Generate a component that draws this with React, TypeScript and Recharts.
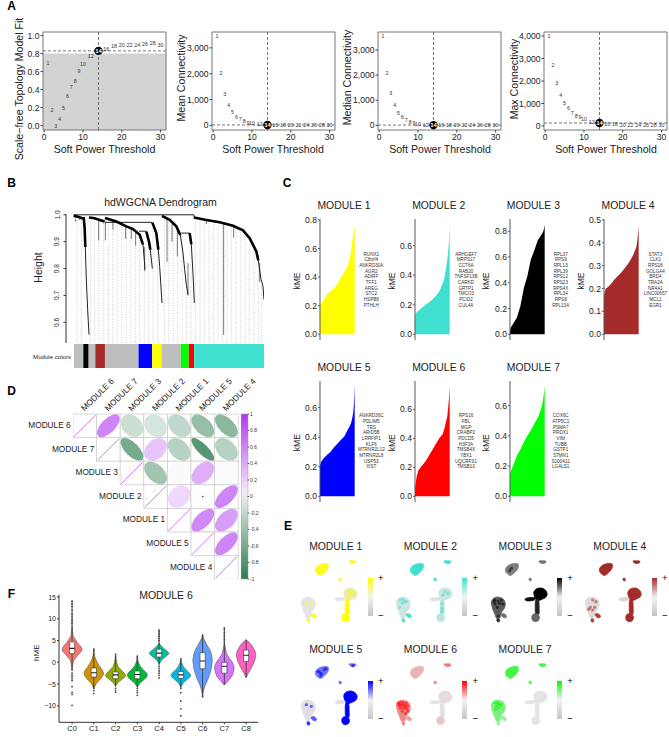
import React from 'react';
import {
  Area,
  AreaChart,
  Bar,
  BarChart,
  ReferenceArea,
  ReferenceLine,
  Scatter,
  ScatterChart,
  XAxis,
  YAxis,
} from 'recharts';

// panel A: soft power picks
const softPowers = [1, 2, 3, 4, 5, 6, 7, 8, 9, 10, 12, 14, 16, 18, 20, 22, 24, 26, 28, 30];
const fitValues = [0.69, 0.17, 0, 0.075, 0.2, 0.33, 0.43, 0.5, 0.61, 0.686, 0.77, 0.83, 0.855, 0.885, 0.895, 0.9, 0.9, 0.905, 0.915, 0.9];
const meanK = [3460, 2015, 1226, 775, 504, 333, 244, 167, 100, 78, 39, 16, 10, 8, 6, 4, 3, 2, 2, 1];
const medianK = [3558, 2097, 1275, 797, 502, 319, 223, 143, 92, 64, 27, 10, 6, 4, 3, 2, 1, 1, 1, 1];
const maxK = [4000, 2724, 1926, 1391, 1036, 786, 578, 458, 385, 311, 191, 133, 102, 75, 60, 48, 40, 33, 28, 24];

// panel B: dendrogram, x = leaf position, y = height
const mainBranches = [
  [[222, 0.996], [235, 0.993], [250, 0.986]],
  [[252, 0.991], [255, 0.95], [257, 0.88]],
  [[268, 0.99], [285, 0.987], [300, 0.981], [315, 0.975]],
  [[316, 0.988], [350, 0.975], [380, 0.957], [400, 0.947], [420, 0.926], [430, 0.889]],
  [[440, 0.938], [448, 0.9], [452, 0.87]],
  [[458, 0.971], [470, 0.932], [476, 0.87]],
  [[487, 0.996], [510, 0.981], [530, 0.957], [542, 0.925]],
  [[570, 0.932], [575, 0.89]],
  [[583, 0.99], [620, 0.981], [660, 0.972], [700, 0.959], [730, 0.942], [750, 0.913], [770, 0.864], [776, 0.83]],
];
const thinBranches = [
  [[222, 1.0], [583, 1.0]],
  [[583, 1.0], [583, 0.99]],
  [[316, 0.972], [458, 0.972]],
  [[418, 0.939], [440, 0.939]],
  [[545, 0.932], [570, 0.932]],
  [[257, 0.88], [260, 0.758], [264, 0.647], [268, 0.554]],
  [[430, 0.889], [434, 0.83], [436, 0.796]],
  [[452, 0.87], [458, 0.8]],
  [[476, 0.87], [480, 0.808], [487, 0.672]],
  [[542, 0.925], [550, 0.858], [555, 0.796], [560, 0.74], [565, 0.703]],
  [[575, 0.89], [580, 0.78], [584, 0.672]],
  [[776, 0.83], [784, 0.76], [790, 0.734], [793, 0.684]],
];
const dropLines = [
  [[228, 0.985], [228, 0.975]], [[240, 0.985], [240, 0.98]], [[297, 0.98], [297, 0.905]],
  [[317, 0.975], [317, 0.905]], [[340, 0.975], [340, 0.945]], [[378, 0.958], [378, 0.91]],
  [[395, 0.948], [395, 0.91]], [[408, 0.94], [408, 0.885]], [[435, 0.88], [435, 0.79]],
  [[502, 0.988], [502, 0.825]], [[517, 0.97], [517, 0.9]], [[533, 0.955], [533, 0.845]],
  [[565, 0.82], [565, 0.7]], [[620, 0.98], [620, 0.965]], [[672, 0.965], [672, 0.553]],
  [[702, 0.955], [702, 0.915]], [[780, 0.82], [780, 0.75]],
];
const guideLeaves = [232, 245, 272, 285, 298, 312, 326, 339, 353, 366, 380, 393, 407, 420, 434, 447, 460, 474, 494, 507, 520, 534, 547, 561, 574, 587, 601, 614, 628, 641, 655, 668, 682, 695, 709, 722, 736, 749, 763, 776, 785];
const guideTops = [0.98, 0.98, 0.98, 0.98, 0.98, 0.97, 0.975, 0.975, 0.97, 0.965, 0.955, 0.945, 0.94, 0.925, 0.87, 0.9, 0.95, 0.9, 0.99, 0.98, 0.97, 0.955, 0.92, 0.75, 0.88, 0.985, 0.98, 0.98, 0.978, 0.975, 0.97, 0.968, 0.965, 0.96, 0.955, 0.945, 0.93, 0.91, 0.88, 0.82, 0.74];

const moduleSegments = [28, 16, 20, 29, 101, 41, 28, 58, 24, 16, 210];
const segmentColors = ['#bebebe', '#000000', '#bebebe', '#a52a2a', '#bebebe', '#0000ff', '#ffff00', '#bebebe', '#00ff00', '#ff0000', '#40e0d0'];

// panel C: ranked kME, same rank grid for every module
const rankGrid = [0, 2, 5, 10, 20, 30, 40, 50, 60, 70, 80, 85, 90, 93, 96, 98, 100];
const kmeM1 = [0.205, 0.21, 0.22, 0.235, 0.28, 0.3, 0.32, 0.35, 0.395, 0.435, 0.48, 0.52, 0.585, 0.65, 0.7, 0.73, 0.765];
const kmeM2 = [0.13, 0.14, 0.15, 0.16, 0.18, 0.2, 0.215, 0.235, 0.26, 0.29, 0.345, 0.385, 0.455, 0.5, 0.57, 0.63, 0.745];
const kmeM3 = [0.03, 0.05, 0.065, 0.085, 0.13, 0.22, 0.36, 0.45, 0.58, 0.65, 0.73, 0.75, 0.77, 0.785, 0.8, 0.82, 0.85];
const kmeM4 = [0.16, 0.185, 0.2, 0.205, 0.22, 0.24, 0.255, 0.27, 0.29, 0.31, 0.335, 0.35, 0.37, 0.38, 0.41, 0.44, 0.475];
const kmeM5 = [0.21, 0.225, 0.24, 0.255, 0.28, 0.3, 0.33, 0.355, 0.38, 0.405, 0.45, 0.47, 0.5, 0.53, 0.57, 0.63, 0.75];
const kmeM6 = [0.06, 0.09, 0.14, 0.18, 0.21, 0.24, 0.28, 0.32, 0.36, 0.4, 0.43, 0.47, 0.52, 0.55, 0.62, 0.68, 0.76];
const kmeM7 = [0.14, 0.16, 0.18, 0.21, 0.27, 0.31, 0.36, 0.4, 0.435, 0.48, 0.52, 0.55, 0.58, 0.61, 0.65, 0.68, 0.73];

const genesM1 = ['RUNX1', 'C8orf4', 'ANKRD30A', 'AGR2', 'ADIRF', 'TFF1', 'AREG', 'STC2', 'HSPB8', 'PTHLH'];
const genesM2 = ['ARHGEF7', 'MRPS17', 'CCT6A', 'RAB20', 'TNFSF13B', 'CARKD', 'GRTP1', 'TMCO3', 'PCID2', 'CUL4A'];
const genesM3 = ['RPL37', 'RPS9', 'RPL13', 'RPL39', 'RPS12', 'RPS23', 'RPS4X', 'RPL34', 'RPS8', 'RPL13A'];
const genesM4 = ['STAT3', 'CLK1', 'RPS18', 'GOLGA4', 'BRD4', 'TRA2A', 'NR4A1', 'LINC00657', 'MCL1', 'EGR1'];
const genesM5 = ['ANKRD36C', 'PDLIM5', 'TES', 'ARID5B', 'LRRFIP1', 'KLF6', 'MTRNR2L12', 'MTRNR2L8', 'USP53', 'XIST'];
const genesM6 = ['RPS16', 'FBL', 'MGP', 'CRABP2', 'PDCD5', 'H3F3A', 'TMSB4X', 'YBX1', 'UQCRFS1', 'TMSB10'];
const genesM7 = ['COX6C', 'ATP5C1', 'PSMA7', 'PRDX1', 'VIM', 'TUBB', 'GSTP1', 'STMN1', 'S100A11', 'LGALS1'];

const moduleColors = ['#ffff00', '#40e0d0', '#000000', '#a52a2a', '#0000ff', '#ff0000', '#00ff00'];

const kmePanels = [
  { name: 'MODULE 1', values: kmeM1, genes: genesM1, domain: [-0.04, 0.806], ticks: [0, 0.2, 0.4, 0.6, 0.8] },
  { name: 'MODULE 2', values: kmeM2, genes: genesM2, domain: [-0.0386, 0.78], ticks: [0, 0.2, 0.4, 0.6] },
  { name: 'MODULE 3', values: kmeM3, genes: genesM3, domain: [-0.044, 0.895], ticks: [0, 0.2, 0.4, 0.6, 0.8] },
  { name: 'MODULE 4', values: kmeM4, genes: genesM4, domain: [-0.025, 0.504], ticks: [0, 0.1, 0.2, 0.3, 0.4, 0.5] },
  { name: 'MODULE 5', values: kmeM5, genes: genesM5, domain: [-0.0386, 0.78], ticks: [0, 0.2, 0.4, 0.6] },
  { name: 'MODULE 6', values: kmeM6, genes: genesM6, domain: [-0.039, 0.795], ticks: [0, 0.2, 0.4, 0.6] },
  { name: 'MODULE 7', values: kmeM7, genes: genesM7, domain: [-0.038, 0.763], ticks: [0, 0.2, 0.4, 0.6] },
];

// panel D: correlation matrix, upper triangle
const corrOrder = ['MODULE 6', 'MODULE 7', 'MODULE 3', 'MODULE 2', 'MODULE 1', 'MODULE 5', 'MODULE 4'];
const corrRows = [
  [1, 0.62, -0.25, -0.2, -0.3, -0.5, -0.55],
  [1, -0.65, 0.3, -0.35, -0.8, -0.35],
  [1, -0.45, -0.03, 0.4, 0.02],
  [1, 0.2, 0, 0.62],
  [1, 0.6, 0.5],
  [1, 0.62],
  [1],
];
const corrTicks = [1, 0.8, 0.6, 0.4, 0.2, 0, -0.2, -0.4, -0.6, -0.8, -1];

// panel E: island outlines of the umap, in picture coordinates
const umapIslands = [
  [[91, 148], [98, 136], [112, 131], [130, 129], [133, 138], [128, 150], [119, 159], [108, 169], [98, 162], [93, 156]],
  [[192, 121], [203, 123], [215, 122], [214, 129], [203, 132], [194, 128]],
  [[161, 175], [169, 173], [172, 182], [164, 184]],
  [[176, 215], [187, 204], [201, 203], [214, 210], [219, 222], [214, 234], [200, 238], [192, 243], [182, 240], [178, 225]],
  [[150, 235], [165, 232], [182, 232], [182, 241], [165, 243], [151, 243]],
  [[181, 236], [194, 236], [193, 270], [195, 285], [181, 285], [182, 262]],
  [[174, 280], [192, 281], [196, 295], [189, 306], [174, 305], [170, 293]],
  [[48, 245], [57, 232], [73, 230], [89, 237], [94, 255], [87, 270], [80, 274], [78, 287], [75, 297], [64, 297], [62, 284], [56, 274], [52, 260]],
  [[78, 280], [92, 281], [98, 291], [90, 295], [80, 289]],
  [[66, 295], [76, 296], [76, 307], [67, 307]],
];
// expression level per island
const umapM1 = [0.85, 0.85, 0.8, 0.2, 0, 1, 1, 0, 0.8, 0.8];
const umapM2 = [1, 1, 1, 0.15, 0.05, 0.3, 0.25, 0.12, 0.9, 0.9];
const umapM3 = [0.45, 0.5, 0.45, 1, 0.95, 0.85, 0.55, 0.6, 0.5, 0.6];
const umapM4 = [1, 1, 1, 1, 0.1, 1, 1, 0.06, 0.9, 0.9];
const umapM5 = [0.5, 0.5, 0.5, 1, 0.02, 1, 1, 0.02, 0.6, 0.8];
const umapM6 = [0.22, 0.45, 0.4, 0.03, 0, 0.02, 0.12, 0.4, 0.3, 0.4];
const umapM7 = [0.7, 0.7, 0.65, 0, 0, 0, 0, 0.45, 0.3, 0.3];
const umapPanels = [umapM1, umapM2, umapM3, umapM4, umapM5, umapM6, umapM7];
// spots of strong expression inside the islands
const spotsM1 = [[195, 215], [205, 223], [190, 230], [200, 212], [210, 218], [196, 226], [65, 250], [80, 250]];
const spotsM2 = [[62, 240], [70, 238], [75, 245], [68, 250], [80, 245], [60, 262], [195, 215], [190, 225], [205, 220], [187, 250], [187, 265], [186, 275]];
const spotsM3 = [[60, 240], [70, 243], [80, 240], [62, 252], [75, 250], [68, 262], [71, 288], [70, 300], [58, 245], [85, 252], [110, 145], [105, 152]];
const spotsM4 = [[72, 240], [82, 245], [65, 262], [78, 262], [60, 268], [72, 270]];
const spotsM5 = [[105, 148], [110, 152], [100, 145], [118, 140], [108, 158], [124, 137], [205, 128], [65, 245], [80, 250]];
const spotsM6 = [[55, 240], [62, 238], [70, 238], [80, 240], [58, 248], [66, 248], [75, 248], [84, 248], [62, 256], [72, 256], [82, 258], [68, 265], [85, 265], [78, 272], [60, 244], [70, 244], [78, 252]];
const spotsM7 = [[60, 240], [68, 238], [75, 245], [65, 250], [72, 255], [80, 245], [62, 260], [70, 243]];
const umapSpots = [spotsM1, spotsM2, spotsM3, spotsM4, spotsM5, spotsM6, spotsM7];

// panel F: violins
const clusters = ['C0', 'C1', 'C2', 'C3', 'C4', 'C5', 'C6', 'C7', 'C8'];
const violinColors = ['#f8766d', '#d39200', '#93aa00', '#00ba38', '#00c19f', '#00b9e3', '#619cff', '#db72fb', '#ff61c3'];
const violinLevels = [
  [-2, -0.5, 0.5, 1.5, 2.5, 3, 3.5, 4.5, 6, 8.5],
  [-6, -4.8, -3.8, -3, -2.5, -2, -1, 0, 1.2, 2.5],
  [-5.5, -4.6, -3.8, -3.3, -3, -2.6, -2, -1, 0, 1.5],
  [-5.7, -4.8, -3.9, -3.3, -2.9, -2.4, -1.8, -0.8, 0, 1],
  [-0.5, 0.3, 1, 1.6, 2, 2.4, 3, 3.6, 4, 4.5],
  [-5.8, -4.8, -3.9, -3.3, -2.9, -2.4, -1.8, -1, -0.2, 0.5],
  [-7.5, -5.5, -3.5, -1.5, 0.5, 2, 3, 4, 5.5, 6.5],
  [-5.2, -4.4, -3.2, -2, -1, 0, 1, 2, 3.2, 4.5],
  [-3.6, -2.5, -1.2, 0, 1.5, 2.5, 3.2, 4, 4.7, 5.2],
];
const violinWidths = [
  [0, 0.03, 0.08, 0.25, 0.42, 0.46, 0.42, 0.25, 0.05, 0],
  [0, 0.12, 0.32, 0.43, 0.45, 0.42, 0.28, 0.15, 0.05, 0],
  [0, 0.12, 0.33, 0.44, 0.46, 0.42, 0.3, 0.12, 0.05, 0],
  [0, 0.12, 0.33, 0.44, 0.46, 0.42, 0.28, 0.12, 0.05, 0],
  [0, 0.08, 0.22, 0.38, 0.46, 0.4, 0.26, 0.13, 0.06, 0],
  [0, 0.1, 0.3, 0.43, 0.45, 0.38, 0.25, 0.12, 0.05, 0],
  [0, 0.1, 0.28, 0.4, 0.45, 0.4, 0.32, 0.2, 0.05, 0],
  [0.02, 0.15, 0.35, 0.43, 0.45, 0.37, 0.22, 0.1, 0.05, 0],
  [0, 0.1, 0.25, 0.37, 0.45, 0.42, 0.34, 0.25, 0.12, 0],
];
const boxLow = [2, -3.4, -3.8, -3.8, 1.2, -3.7, -1.5, -2.5, 0.2];
const boxMid = [3.2, -2.4, -2.9, -2.8, 2.1, -2.9, 0.3, -0.9, 1.6];
const boxHigh = [4.7, -1.3, -2.2, -2, 3, -2.1, 2.2, 0, 2.8];
const whiskerLow = [-2, -6, -5.6, -5.8, -0.8, -5.8, -7.9, -5, -3.5];
const whiskerHigh = [14.2, 3, 1.8, 1.4, 7.4, 0.9, 6.4, 7.9, 5.2];
const violinOutliers = [
  [14, 13.4, 12.8, 12, 11.2, 10.6, 10, 9.5, 9, -2.5, -3, -3.4, -3.8, -4.2, -5.6, -6.9, -7.4, -9.9],
  [3, 2.6, -5.6, -6, -6.5, -7.2],
  [1.8, 1.2, -6, -6.5, -6.9],
  [1.4, 1, -6, -6.5, -7, -7.6],
  [5, 5.5, 6, 6.5, 7, 7.4, -1, -1.5, -2, -2.5, -3, -3.6],
  [0.8, 0.4, -6, -7, -8.9, -10.7, -12.3],
  [-7.5, -7.9],
  [7.9, 7.4, 6.8, 6.2, 5.7, 5.2, 4.7],
  [],
];

const FONT = '"Liberation Sans", Arial, sans-serif';
const PAD = 8;
const TXT = '#222';

const pairs = (list: number[][]) => list.map(([x, y]) => ({ x, y }));
const noDot = () => null;

// one Scatter joined into a polyline or a filled polygon
function polyline(key: string, pts: number[][], line: Record<string, unknown>, joint: any = 'linear') {
  return (
    <Scatter
      key={key}
      data={pairs(pts)}
      line={line}
      lineType="joint"
      lineJointType={joint}
      shape={noDot}
      isAnimationActive={false}
    />
  );
}

function frame(left: number, top: number, w: number, h: number, yw = 0, xh = 0) {
  return {
    style: { position: 'absolute' as const, left: left - yw, top: top - PAD },
    width: yw + w + PAD,
    height: PAD + h + xh,
    margin: { top: PAD, right: PAD, bottom: 0, left: 0 },
  };
}

function PowerLabel(props: any) {
  const { cx, cy, payload } = props;
  if (payload.x === 14) {
    return (
      <g>
        <circle cx={cx} cy={cy} r={4.2} fill="#000" />
        <text x={cx} y={cy} fontSize={6} fontWeight="bold" fill="#fff" textAnchor="middle" dominantBaseline="central">14</text>
      </g>
    );
  }
  return <text x={cx} y={cy} fontSize={5.3} fill="#333" textAnchor="middle" dominantBaseline="central">{payload.x}</text>;
}

type SoftProps = {
  left: number;
  values: number[];
  domain: number[];
  ticks: number[];
  cut: number;
  shade?: boolean;
  offset: number;
};

function SoftPanel({ left, values, domain, ticks, cut, shade, offset }: SoftProps) {
  const data = softPowers.map((x, i) => ({ x, y: values[i] }));
  const f = frame(left, 32, 123, 98, 32, 22);
  const tick = { fontSize: 8.6, fill: TXT };
  return (
    <ScatterChart {...f}>
      <XAxis type="number" dataKey="x" domain={[-offset, 31.4]} ticks={[0, 10, 20, 30]} allowDataOverflow axisLine={false} tick={tick} tickSize={2.5} tickMargin={1} height={22} stroke="#444" />
      <YAxis type="number" dataKey="y" domain={domain} ticks={ticks} allowDataOverflow axisLine={false} tick={tick} tickSize={2.5} tickMargin={1} width={32} stroke="#444" tickFormatter={(v) => (shade ? Number(v).toFixed(1) : Number(v).toLocaleString('en-US'))} />
      {shade && <ReferenceArea x1={-offset} x2={31.4} y1={domain[0]} y2={0.8} fill="#d3d3d3" fillOpacity={1} stroke="none" />}
      <ReferenceArea x1={-offset} x2={31.4} y1={domain[0]} y2={domain[1]} fill="none" stroke="#777" strokeWidth={1} />
      <ReferenceLine x={14} stroke="#666" strokeDasharray="3 2" strokeWidth={0.9} />
      <ReferenceLine y={cut} stroke="#666" strokeDasharray="3 2" strokeWidth={0.9} />
      <Scatter data={data} shape={PowerLabel} isAnimationActive={false} />
    </ScatterChart>
  );
}

function Dendrogram() {
  const f = frame(66, 214, 198, 129, 14, 0);
  return (
    <ScatterChart {...f}>
      <XAxis type="number" dataKey="x" domain={[199, 793]} allowDataOverflow hide />
      <YAxis
        type="number"
        dataKey="y"
        domain={[0.523, 1.003]}
        allowDataOverflow
        ticks={[0.6, 0.7, 0.8, 0.9, 1]}
        width={14}
        stroke="#333"
        tickSize={2.5}
        tickMargin={0}
        tick={(p: any) => (
          <text x={p.x - 4} y={p.y} fontSize={6.6} fill={TXT} textAnchor="middle" transform={`rotate(-90 ${p.x - 4} ${p.y})`}>
            {Number(p.payload.value).toFixed(1)}
          </text>
        )}
      />
      {guideLeaves.map((x, i) =>
        polyline(`g${i}`, [[x, guideTops[i]], [x, 0.523]], { stroke: '#b5b5b5', strokeWidth: 0.7, strokeDasharray: '1 1.5' }),
      )}
      {dropLines.map((pts, i) => polyline(`d${i}`, pts, { stroke: '#666', strokeWidth: 0.9 }))}
      {thinBranches.map((pts, i) => polyline(`t${i}`, pts, { stroke: '#222', strokeWidth: 1 }))}
      {mainBranches.map((pts, i) => polyline(`m${i}`, pts, { stroke: '#000', strokeWidth: 2.6 }))}
    </ScatterChart>
  );
}

function ModuleStrip() {
  const row: Record<string, number | string> = { name: 'colors' };
  moduleSegments.forEach((v, i) => {
    row[`s${i}`] = v;
  });
  return (
    <BarChart
      layout="vertical"
      data={[row]}
      width={190}
      height={24}
      margin={{ top: 0, right: 0, bottom: 0, left: 0 }}
      barCategoryGap={0}
      style={{ position: 'absolute', left: 74, top: 344 }}
    >
      <XAxis type="number" domain={[0, 571]} allowDataOverflow hide />
      <YAxis type="category" dataKey="name" hide />
      {moduleSegments.map((_, i) => (
        <Bar key={i} dataKey={`s${i}`} stackId="a" fill={segmentColors[i]} isAnimationActive={false} />
      ))}
    </BarChart>
  );
}

function KmePanel({ idx }: { idx: number }) {
  const p = kmePanels[idx];
  const col = idx % 4;
  const rowTop = idx < 4 ? 219 : 380.7;
  const f = frame(320.3 + col * 94.7, rowTop, 34.7, 121, 18, 0);
  const data = rankGrid.map((rank, i) => ({ rank, kME: p.values[i] }));
  return (
    <AreaChart {...f} data={data}>
      <XAxis type="number" dataKey="rank" domain={[0, 100]} hide />
      <YAxis
        type="number"
        domain={p.domain}
        ticks={p.ticks}
        allowDataOverflow
        width={18}
        stroke="#555"
        tickSize={2}
        tickMargin={1}
        tick={{ fontSize: 8.6, fill: TXT }}
        tickFormatter={(v) => Number(v).toFixed(1)}
      />
      <Area type="linear" dataKey="kME" stroke="none" fill={moduleColors[idx]} fillOpacity={1} dot={false} activeDot={false} isAnimationActive={false} />
    </AreaChart>
  );
}

const CELL = 23.6;

function corrColor(r: number) {
  const t = Math.abs(r);
  const end = r >= 0 ? [176, 58, 240] : [46, 125, 80];
  const c = end.map((e) => Math.round(255 + (e - 255) * t));
  return `rgb(${c[0]},${c[1]},${c[2]})`;
}

function CorrCell(props: any) {
  const { cx, cy, payload } = props;
  const r: number = payload.r;
  const half = CELL / 2;
  const R = 11.4;
  const a = R * Math.sqrt(1 + Math.abs(r));
  const b = R * Math.sqrt(1 - Math.abs(r));
  return (
    <g>
      <rect x={cx - half} y={cy - half} width={CELL} height={CELL} fill="#fff" stroke="#cfcfcf" strokeWidth={0.8} />
      {r === 1 ? (
        <line x1={cx - half + 1} y1={cy + half - 1} x2={cx + half - 1} y2={cy - half + 1} stroke="#b63cf0" strokeWidth={0.7} />
      ) : r === 0 ? (
        <circle cx={cx} cy={cy} r={0.8} fill="#333" />
      ) : (
        <ellipse cx={cx} cy={cy} rx={a} ry={b} fill={corrColor(r)} transform={`rotate(${r > 0 ? -45 : 45} ${cx} ${cy})`} />
      )}
    </g>
  );
}

function CorrMatrix() {
  const data = corrRows.flatMap((vals, row) =>
    vals.map((r, i) => ({ x: row + i, y: row, r })),
  );
  const f = frame(73.3, 414.3, 7 * CELL, 7 * CELL);
  return (
    <ScatterChart {...f}>
      <XAxis type="number" dataKey="x" domain={[-0.5, 6.5]} hide />
      <YAxis type="number" dataKey="y" domain={[-0.5, 6.5]} reversed hide />
      <Scatter data={data} shape={CorrCell} isAnimationActive={false} />
    </ScatterChart>
  );
}

function CorrLegend() {
  return (
    <BarChart
      data={[{ name: 'r', span: [-1, 1] }]}
      width={30}
      height={165 + PAD * 2}
      margin={{ top: PAD, right: 0, bottom: PAD, left: 0 }}
      barCategoryGap={0}
      style={{ position: 'absolute', left: 240.7, top: 414.3 - PAD }}
    >
      <defs>
        <linearGradient id="corrGrad" x1="0" y1="0" x2="0" y2="1">
          <stop offset="0%" stopColor="#b03af0" />
          <stop offset="47%" stopColor="#f4e8fb" />
          <stop offset="53%" stopColor="#dfe6e2" />
          <stop offset="62%" stopColor="#b9d3c5" />
          <stop offset="100%" stopColor="#2e7d50" />
        </linearGradient>
      </defs>
      <XAxis dataKey="name" hide />
      <YAxis
        orientation="right"
        type="number"
        domain={[-1, 1]}
        ticks={corrTicks}
        width={23.4}
        axisLine={false}
        stroke="#555"
        tickSize={1.5}
        tickMargin={1}
        interval={0}
        tick={{ fontSize: 4.9, fill: '#333' }}
      />
      <Bar dataKey="span" fill="url(#corrGrad)" stroke="#999" strokeWidth={0.5} isAnimationActive={false} />
    </BarChart>
  );
}

function mixColor(hex: string, t: number) {
  const n = parseInt(hex.slice(1), 16);
  const c = [n >> 16, (n >> 8) & 255, n & 255];
  const base = 228;
  const m = c.map((e) => Math.round(base + (e - base) * t));
  return `rgb(${m[0]},${m[1]},${m[2]})`;
}

const SpotDot = (p: any) => <circle cx={p.cx} cy={p.cy} r={1.6} fill={p.fill} fillOpacity={0.55} />;

function UmapPanel({ idx }: { idx: number }) {
  const col = idx % 4;
  const rowOff = idx < 4 ? 0 : 103;
  const f = frame(285 + 40 / 3 + col * 94.7, 560 + rowOff, 62, 64);
  const hex = moduleColors[idx];
  return (
    <ScatterChart {...f}>
      <XAxis type="number" dataKey="x" domain={[40, 226]} allowDataOverflow hide />
      <YAxis type="number" dataKey="y" domain={[120, 312]} reversed allowDataOverflow hide />
      {umapIslands.map((pts, i) => {
        const color = mixColor(hex, umapPanels[idx][i]);
        return polyline(`i${i}`, pts, { fill: color, stroke: color, strokeWidth: 0.8 }, 'basisClosed');
      })}
      <Scatter data={pairs(umapSpots[idx])} fill={hex} shape={SpotDot} isAnimationActive={false} />
    </ScatterChart>
  );
}

function UmapBar({ idx }: { idx: number }) {
  const col = idx % 4;
  const rowOff = idx < 4 ? 0 : 103;
  const id = `umapGrad${idx}`;
  return (
    <BarChart
      data={[{ name: 'scale', v: 1 }]}
      width={5}
      height={38.3}
      margin={{ top: 0, right: 0, bottom: 0, left: 0 }}
      barCategoryGap={0}
      style={{ position: 'absolute', left: 367.7 + col * 94.7, top: 578 + rowOff }}
    >
      <defs>
        <linearGradient id={id} x1="0" y1="0" x2="0" y2="1">
          <stop offset="0%" stopColor={moduleColors[idx]} />
          <stop offset="50%" stopColor="#f2f2f2" />
          <stop offset="100%" stopColor="#c4c4c4" />
        </linearGradient>
      </defs>
      <XAxis dataKey="name" hide />
      <YAxis domain={[0, 1]} hide />
      <Bar dataKey="v" fill={`url(#${id})`} isAnimationActive={false} />
    </BarChart>
  );
}

function Violins() {
  const f = frame(58.7, 595, 199.3, 127.3, 22, 16);
  const outlierPts = violinOutliers.flatMap((vals, i) => vals.map((v) => [i, v]));
  const tick = { fontSize: 7, fill: TXT };
  return (
    <ScatterChart {...f}>
      <XAxis
        type="number"
        dataKey="x"
        domain={[-0.6, 8.56]}
        allowDataOverflow
        ticks={clusters.map((_, i) => i)}
        interval={0}
        tickFormatter={(v) => clusters[v]}
        height={16}
        stroke="#333"
        tickSize={2}
        tickMargin={1}
        tick={{ fontSize: 7.6, fill: TXT }}
      />
      <YAxis
        type="number"
        dataKey="y"
        domain={[-13.8, 15.47]}
        allowDataOverflow
        ticks={[-10, -5, 0, 5, 10, 15]}
        width={22}
        stroke="#333"
        tickSize={2}
        tickMargin={1}
        tick={tick}
        tickFormatter={(v) => String(v).replace('-', '\u2212')}
      />
      {clusters.map((_, i) => {
        const lv = violinLevels[i];
        const wd = violinWidths[i];
        const poly = [
          ...lv.map((v, j) => [i + wd[j], v]),
          ...lv.map((v, j) => [i - wd[j], v]).reverse(),
        ];
        poly.push(poly[0]);
        return polyline(`v${i}`, poly, { stroke: '#555', strokeWidth: 0.6, fill: violinColors[i] });
      })}
      {clusters.map((_, i) => polyline(`w${i}`, [[i, whiskerLow[i]], [i, whiskerHigh[i]]], { stroke: '#333', strokeWidth: 0.8 }))}
      <Scatter data={pairs(outlierPts)} fill="#444" shape={(p: any) => <circle cx={p.cx} cy={p.cy} r={0.9} fill="#444" />} isAnimationActive={false} />
      {clusters.map((_, i) => {
        const hw = 0.12;
        const q = [
          [i - hw, boxLow[i]], [i + hw, boxLow[i]], [i + hw, boxHigh[i]], [i - hw, boxHigh[i]], [i - hw, boxLow[i]],
        ];
        return polyline(`b${i}`, q, { stroke: '#444', strokeWidth: 0.7, fill: '#fff' });
      })}
      {clusters.map((_, i) => polyline(`c${i}`, [[i - 0.12, boxMid[i]], [i + 0.12, boxMid[i]]], { stroke: '#222', strokeWidth: 1.1 }))}
    </ScatterChart>
  );
}

function T({ x, y, s, a = 'middle', r, c = TXT, w, children }: any) {
  return (
    <text
      x={x}
      y={y}
      fontSize={s}
      textAnchor={a}
      dominantBaseline="central"
      fill={c}
      fontWeight={w}
      transform={r ? `rotate(${r} ${x} ${y})` : undefined}
    >
      {children}
    </text>
  );
}

function Annotations() {
  const softCenters = [104.5, 273, 440, 606];
  return (
    <svg width={669} height={737} style={{ position: 'absolute', left: 0, top: 0, pointerEvents: 'none' }}>
      <T x={11.5} y={6} s={12} w="bold" c="#000">A</T>
      <T x={11.5} y={183} s={12} w="bold" c="#000">B</T>
      <T x={287} y={183} s={12} w="bold" c="#000">C</T>
      <T x={11.5} y={390.5} s={12} w="bold" c="#000">D</T>
      <T x={288} y={526} s={12} w="bold" c="#000">E</T>
      <T x={11.5} y={594} s={12} w="bold" c="#000">F</T>

      {softCenters.map((x) => (
        <T key={x} x={x} y={148.5} s={10.6}>Soft Power Threshold</T>
      ))}
      <T x={19} y={89} s={10.6} r={-90}>{'Scale\u2212free Topology Model Fit'}</T>
      <T x={181} y={78} s={10.6} r={-90}>Mean Connectivity</T>
      <T x={346.7} y={77.5} s={10.6} r={-90}>Median Connectivity</T>
      <T x={514} y={79} s={10.6} r={-90}>Max Connectivity</T>

      <T x={160.5} y={202} s={10.5}>hdWGCNA Dendrogram</T>
      <T x={38} y={267.5} s={10.5} r={-90}>Height</T>
      <T x={71} y={356} s={6.1} a="end">Module colors</T>

      {kmePanels.map((p, i) => {
        const col = i % 4;
        const top = i < 4;
        const dx = col * 94.7;
        return (
          <g key={p.name}>
            <T x={344 + dx} y={top ? 205.7 : 367} s={10.4}>{p.name}</T>
            <T x={297 + dx} y={top ? 281 : 442.7} s={8.5} r={-90}>kME</T>
            {p.genes.map((g, j) => (
              <T key={g} x={371.3 + dx} y={(top ? 254 : 415.7) + j * 5.67} s={4.6} c="#333">{g}</T>
            ))}
          </g>
        );
      })}

      {corrOrder.map((name, i) => (
        <g key={name}>
          <T x={70.7 + i * CELL} y={425 + i * CELL} s={8.3} a="end">{name}</T>
          <T x={82.5 + i * CELL} y={409.5} s={8.3} a="start" r={-45}>{name}</T>
        </g>
      ))}

      {kmePanels.map((p, i) => {
        const dx = (i % 4) * 94.7;
        const dy = i < 4 ? 0 : 103;
        return (
          <g key={`u${p.name}`}>
            <T x={335.7 + dx} y={546 + dy} s={10.4}>{p.name}</T>
            <T x={380.7 + dx} y={577.3 + dy} s={9.5} c="#000">+</T>
            <T x={380.7 + dx} y={615.3 + dy} s={9.5} c="#000">{'\u2212'}</T>
          </g>
        );
      })}

      <T x={166} y={594.5} s={10.5}>MODULE 6</T>
      <T x={36.7} y={652.7} s={8} r={-90}>hME</T>
    </svg>
  );
}

export default function App() {
  return (
    <div style={{ position: 'absolute', left: 0, top: 0, width: 669, height: 737, background: '#fff', fontFamily: FONT, overflow: 'hidden' }}>
      <SoftPanel left={43} values={fitValues} domain={[-0.05, 1.04]} ticks={[0, 0.2, 0.4, 0.6, 0.8, 1]} cut={0.83} shade offset={0.3} />
      <SoftPanel left={212} values={meanK} domain={[-180, 3615]} ticks={[0, 1000, 2000, 3000]} cut={16} offset={0.3} />
      <SoftPanel left={378} values={medianK} domain={[-185, 3720]} ticks={[0, 1000, 2000, 3000]} cut={10} offset={0.3} />
      <SoftPanel left={544} values={maxK} domain={[-178, 4178]} ticks={[0, 1000, 2000, 3000, 4000]} cut={133} offset={0.3} />
      <Dendrogram />
      <ModuleStrip />
      {kmePanels.map((_, i) => (
        <KmePanel key={i} idx={i} />
      ))}
      <CorrMatrix />
      <CorrLegend />
      {umapPanels.map((_, i) => (
        <React.Fragment key={i}>
          <UmapPanel idx={i} />
          <UmapBar idx={i} />
        </React.Fragment>
      ))}
      <Violins />
      <Annotations />
    </div>
  );
}
